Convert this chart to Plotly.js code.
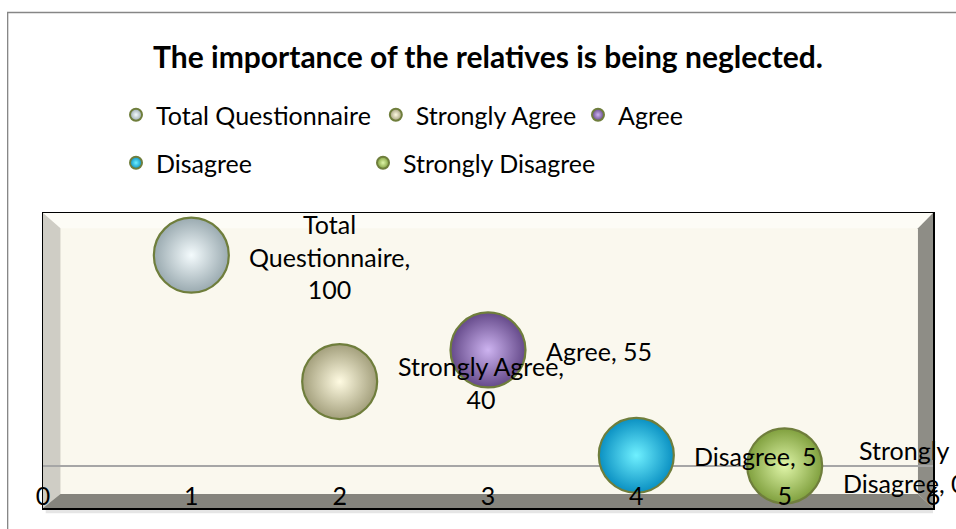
<!DOCTYPE html>
<html>
<head>
<meta charset="utf-8">
<script src="https://cdn.plot.ly/plotly-3.0.1.min.js"></script>
<style>html,body{margin:0;padding:0;background:#fff;}#chart{width:956px;height:529px;}</style>
</head>
<body>
<div id="chart"></div>
<script>
// ---- data ----
var categories = ["Total Questionnaire", "Strongly Agree", "Agree", "Disagree", "Strongly Disagree"];
var xValues = [1, 2, 3, 4, 5];
var yValues = [100, 40, 55, 5, 0];
var xTickValues = [0, 1, 2, 3, 4, 5, 6];
var chartTitle = "The importance of the relatives is being neglected.";

// ---- styles ----
var baseColors = ["#9aaab0", "#a39f7c", "#654a8a", "#0a90c2", "#80a03e"];
var lightColors = ["#f4fbfd", "#fffbe2", "#cdb3f0", "#6ff0ff", "#dff5a8"];
var legendOf = ["legend", "legend", "legend2", "legend3", "legend3"];
var FONT = "Lato, 'Liberation Sans', sans-serif";

function wrapLabel(s, maxChars) {
  var words = s.split(" "), lines = [], cur = "";
  words.forEach(function (w) {
    if (cur === "") cur = w;
    else if ((cur + " " + w).length <= maxChars) cur += " " + w;
    else { lines.push(cur); cur = w; }
  });
  if (cur) lines.push(cur);
  return lines.join("<br>");
}

var traces = categories.map(function (c, i) {
  return {
    type: "scatter", mode: "markers", name: c,
    x: [xValues[i]], y: [yValues[i]],
    legend: legendOf[i],
    marker: {
      size: 75, color: baseColors[i],
      gradient: { type: "radial", color: lightColors[i] },
      line: { color: "#6f7e3c", width: 2.2 }
    },
    hoverinfo: "name+y"
  };
});

var annotations = categories.map(function (c, i) {
  return {
    x: xValues[i], y: yValues[i], xref: "x", yref: "y",
    text: wrapLabel(c + ", " + yValues[i], 15),
    showarrow: false, xanchor: "left", yanchor: "middle", align: "center",
    xshift: 56, yshift: -1,
    font: { family: FONT, size: 25, color: "#000" }
  };
});

var xl = 0.0196, xr = 0.9831, yb = 0.0474, yt = 0.948;
var shapes = [
  { type: "rect", xref: "paper", yref: "paper", x0: -0.0397, x1: 1.3, y0: -0.4, y1: 1.6796,
    line: { color: "#868686", width: 1.3 }, fillcolor: "rgba(0,0,0,0)", layer: "below" },
  { type: "rect", xref: "paper", yref: "paper", x0: 0.003, x1: 1.0, y0: -0.018, y1: 0,
    line: { width: 0 }, fillcolor: "rgba(0,0,0,0.10)", layer: "below" },
  { type: "path", xref: "paper", yref: "paper", path: "M 0,1 L 1,1 L " + xr + "," + yt + " L " + xl + "," + yt + " Z",
    fillcolor: "#fdfcf6", line: { width: 0 }, layer: "below" },
  { type: "path", xref: "paper", yref: "paper", path: "M 0,0 L 0,1 L " + xl + "," + yt + " L " + xl + "," + yb + " Z",
    fillcolor: "#cfcdc5", line: { width: 0 }, layer: "below" },
  { type: "path", xref: "paper", yref: "paper", path: "M 1,1 L 1,0 L " + xr + "," + yb + " L " + xr + "," + yt + " Z",
    fillcolor: "#8e8d86", line: { width: 0 }, layer: "below" },
  { type: "path", xref: "paper", yref: "paper", path: "M 0,0 L 1,0 L " + xr + "," + yb + " L " + xl + "," + yb + " Z",
    fillcolor: "#85847d", line: { width: 0 }, layer: "below" }
];

var legendFont = { family: FONT, size: 25, color: "#000" };
var layout = {
  width: 956, height: 529,
  margin: { l: 43, r: 23, t: 213, b: 21 },
  paper_bgcolor: "#ffffff", plot_bgcolor: "#faf8ee",
  font: { family: FONT, size: 25, color: "#000" },
  title: { text: "<b>" + chartTitle + "</b>", x: 0.5, xref: "paper", xanchor: "center",
           y: 1 - 57 / 529, yref: "container", yanchor: "middle",
           font: { family: FONT, size: 30, color: "#000" } },
  xaxis: { range: [0, 6], tickvals: xTickValues, ticktext: xTickValues.map(String),
           showgrid: false, zeroline: false, showline: true, mirror: true, linecolor: "#000", linewidth: 1.5,
           ticks: "", ticklabelposition: "inside", ticklabeloverflow: "allow",
           tickfont: { family: FONT, size: 25, color: "#000" },
           fixedrange: true },
  yaxis: { range: [-20, 120], showgrid: false, zeroline: true, zerolinecolor: "#a6a6a6", zerolinewidth: 1.5,
           showline: true, mirror: true, linecolor: "#000", linewidth: 1.5, showticklabels: false, ticks: "",
           fixedrange: true },
  showlegend: true,
  legend: { orientation: "h", xref: "container", yref: "container", x: 116 / 956, y: 1 - 115 / 529,
            xanchor: "left", yanchor: "middle", font: legendFont, itemsizing: "constant", bgcolor: "rgba(0,0,0,0)" },
  legend2: { orientation: "h", xref: "container", yref: "container", x: 578 / 956, y: 1 - 115 / 529,
             xanchor: "left", yanchor: "middle", font: legendFont, itemsizing: "constant", bgcolor: "rgba(0,0,0,0)" },
  legend3: { orientation: "h", xref: "container", yref: "container", x: 116 / 956, y: 1 - 163 / 529,
             xanchor: "left", yanchor: "middle", font: legendFont, itemsizing: "constant", bgcolor: "rgba(0,0,0,0)",
             entrywidth: 202, entrywidthmode: "pixels" },
  annotations: annotations,
  shapes: shapes
};

Plotly.newPlot("chart", traces, layout, { displayModeBar: false, staticPlot: true });
</script>
</body>
</html>
